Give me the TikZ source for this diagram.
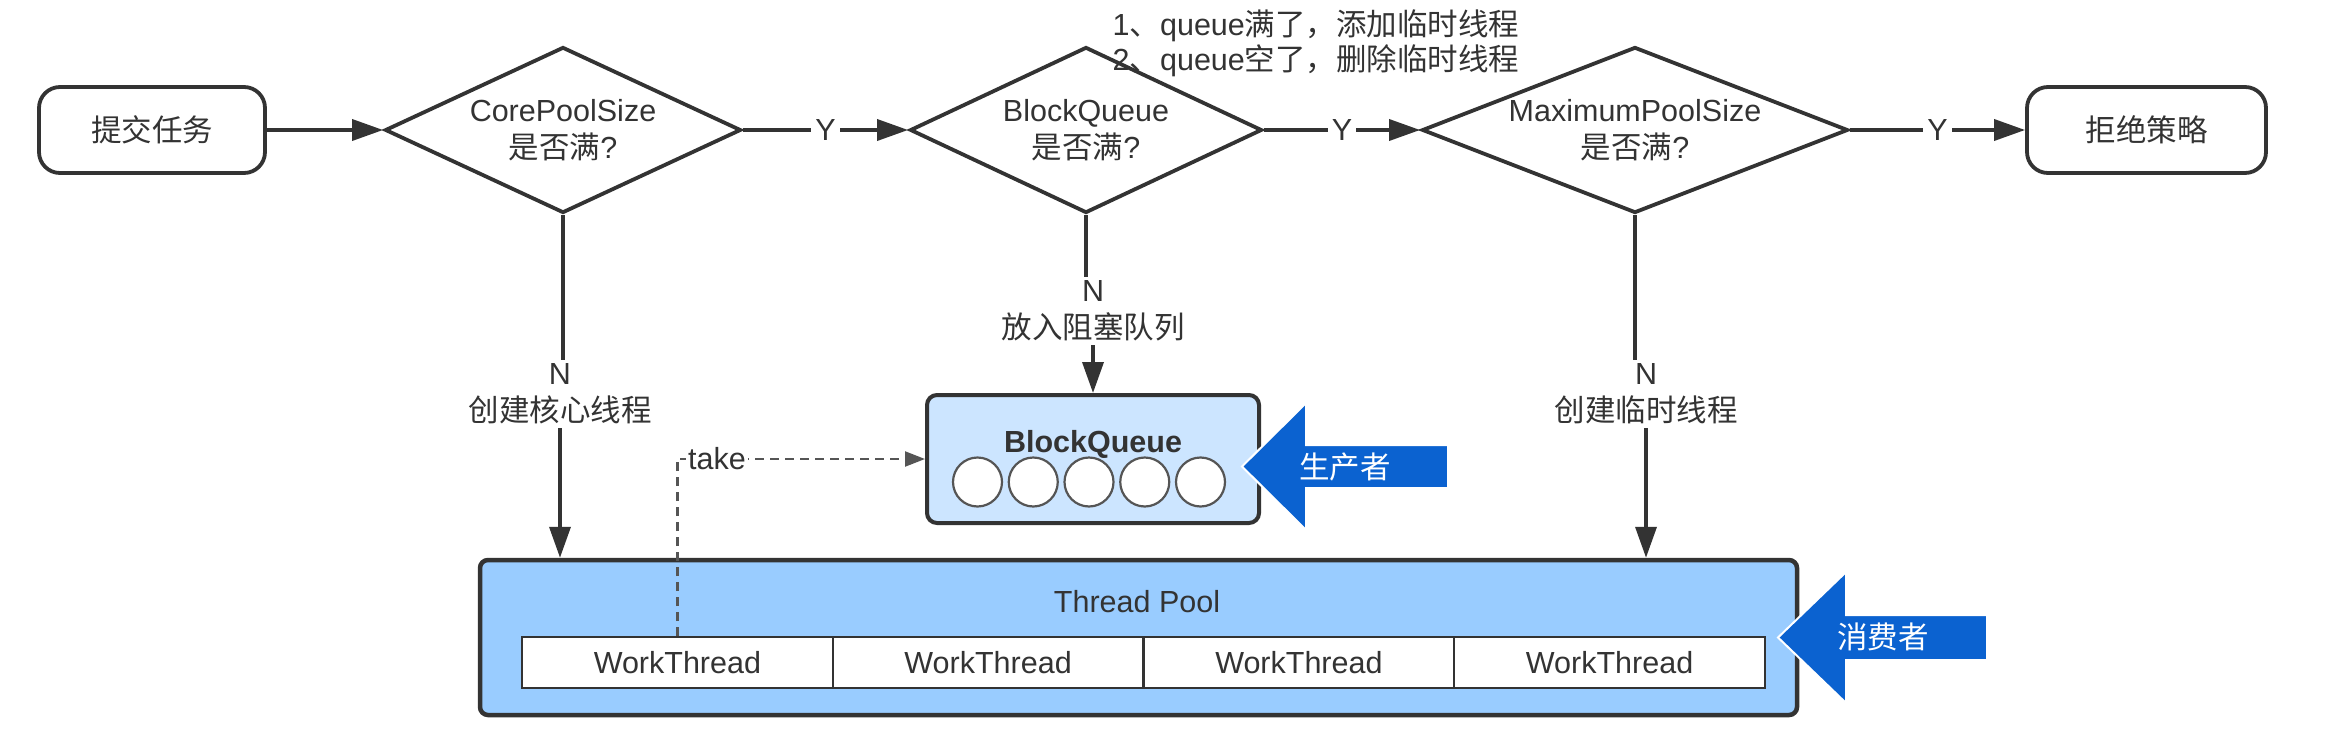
\documentclass[tikz,border=0pt]{standalone}
\usepackage{fontspec}
\setmainfont{Liberation Sans}
\newfontfamily\cjk{Noto Sans CJK SC}
\usetikzlibrary{shapes.geometric,arrows.meta}
\definecolor{ink}{HTML}{333333}
\definecolor{poolblue}{HTML}{99CCFF}
\definecolor{qblue}{HTML}{CCE5FF}
\definecolor{arrblue}{HTML}{0B62D0}
\definecolor{dashgray}{HTML}{555555}
\begin{document}
\begin{tikzpicture}[x=1pt,y=-1pt,
  every node/.style={text=ink, font=\fontsize{30.5}{37}\selectfont},
  shapeline/.style={draw=ink, line width=3.8pt},
  term/.style={shapeline, rounded corners=21pt, minimum width=226pt, minimum height=86pt, inner sep=0pt},
  dia/.style={shapeline, diamond, minimum width=#1, minimum height=166pt, inner sep=0pt},
  dtext/.style={align=center, inner sep=0pt},
  conn/.style={draw=ink, line width=3.6pt},
  arr/.style={conn, -{Triangle[length=31pt,width=21pt]}},
  ylbl/.style={fill=white, inner sep=4pt},
  nlbl/.style={align=center, inner sep=4pt},
  poolbox/.style={draw=ink, line width=4.5pt, fill=poolblue, rounded corners=8pt, minimum width=1317pt, minimum height=155pt, inner sep=0pt},
  qbox/.style={draw=ink, line width=4pt, fill=qblue, rounded corners=10pt, minimum width=332pt, minimum height=128pt, inner sep=0pt},
  cell/.style={draw=ink, line width=2pt, fill=white, minimum width=310.75pt, minimum height=51pt, inner sep=0pt},
  ball/.style={circle, draw=dashgray, line width=2.2pt, fill=white, minimum size=49pt, inner sep=0pt},
  dashline/.style={draw=dashgray, line width=2.2pt, dash pattern=on 9pt off 6pt, -{Triangle[length=20pt,width=15pt]}},
  bluearrow/.style={fill=arrblue, draw=white, line width=2pt},
]
\useasboundingbox (0,0) rectangle (2328,736);
\fill[white] (0,0) rectangle (2328,736);

% annotation
\node[align=left, font=\fontsize{30.5}{35}\selectfont] (note) at (1316,43.5)
  {1{\cjk 、}queue{\cjk 满了，添加临时线程}\\2{\cjk 、}queue{\cjk 空了，删除临时线程}};

% top row
\node[term] (start) at (152,130) {{\cjk 提交任务}};
\node[dia=356pt] (d1) at (563,130) {};
\node[dtext] (t1) at (d1) {CorePoolSize\\{\cjk 是否满}?};
\node[dia=352pt] (d2) at (1086,130) {};
\node[dtext] (t2) at (d2) {BlockQueue\\{\cjk 是否满}?};
\node[dia=426pt] (d3) at (1635,130) {};
\node[dtext] (t3) at (d3) {MaximumPoolSize\\{\cjk 是否满}?};
\node[term, minimum width=239pt] (reject) at (2146.5,130) {{\cjk 拒绝策略}};

\draw[arr] (start.east) -- (d1.west);
\draw[arr] (d1.east) -- node[ylbl] (y1) {Y} (d2.west);
\draw[arr] (d2.east) -- node[ylbl] (y2) {Y} (d3.west);
\draw[arr] (d3.east) -- node[ylbl] (y3) {Y} (reject.west);

% pool and queue
\node[poolbox] (pool) at (1138.5,637.5) {};
\node[anchor=base] (ptitle) at (1137,612) {Thread Pool};
\node[cell] (w1) at (677.4,662.5) {WorkThread};
\node[cell] (w2) at (988.1,662.5) {WorkThread};
\node[cell] (w3) at (1298.9,662.5) {WorkThread};
\node[cell] (w4) at (1609.6,662.5) {WorkThread};

\node[qbox] (bq) at (1093,459) {};
\node[anchor=base, font=\fontsize{30.5}{37}\selectfont\bfseries] (bqt) at (1093,452) {BlockQueue};
\foreach \i in {1,...,5}
  \node[ball] (c\i) at ({1089+55.75*(\i-3)},482) {};

% N branches
\node[nlbl] (n1) at (560,394) {N\\{\cjk 创建核心线程}};
\node[nlbl] (n2) at (1093,311) {N\\{\cjk 放入阻塞队列}};
\node[nlbl] (n3) at (1646,394) {N\\{\cjk 创建临时线程}};

\draw[conn] (d1.south) -- (d1.south |- n1.north);
\draw[arr] (n1.south) -- (n1.south |- pool.north);
\draw[conn] (d2.south) -- (d2.south |- n2.north);
\draw[arr] (n2.south) -- (bq.north);
\draw[conn] (d3.south) -- (d3.south |- n3.north);
\draw[arr] (n3.south) -- (n3.south |- pool.north);

% take
\draw[dashline] (w1.north) |- node[pos=0.58, fill=white, inner sep=2pt] (take) {take} (bq.west);

% producer / consumer arrows
\filldraw[bluearrow] (1242,466.5) -- (1306,403) -- (1306,445) -- (1448,445) -- (1448,488) -- (1306,488) -- (1306,530) -- cycle;
\node[text=white] (prod) at (1345,467) {{\cjk 生产者}};
\filldraw[bluearrow] (1778,637.5) -- (1846,572) -- (1846,615) -- (1987,615) -- (1987,660) -- (1846,660) -- (1846,703) -- cycle;
\node[text=white] (cons) at (1883,637) {{\cjk 消费者}};
\end{tikzpicture}
\end{document}
